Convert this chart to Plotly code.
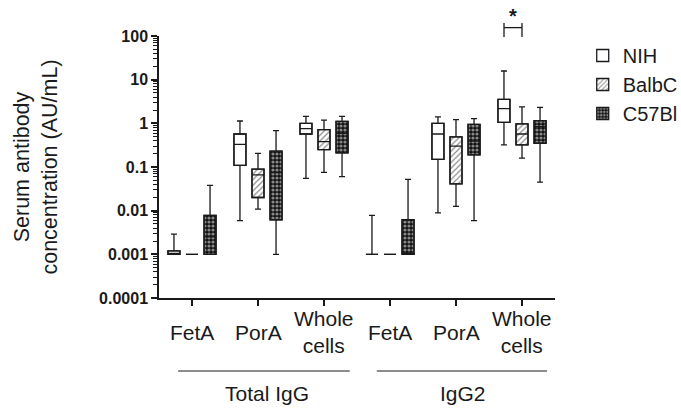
import plotly.graph_objects as go

# ---------------- data ----------------
groups = ["Total IgG", "IgG2"]
categories = ["Total IgG|FetA", "Total IgG|PorA", "Total IgG|Whole cells",
              "IgG2|FetA", "IgG2|PorA", "IgG2|Whole cells"]
category_labels = ["FetA", "PorA", "Whole<br>cells", "FetA", "PorA", "Whole<br>cells"]
strains = ["NIH", "BalbC", "C57Bl"]

nih_min = [0.001, 0.0059, 0.055, 0.001, 0.0089, 0.32]
nih_q1 = [0.001, 0.109, 0.57, 0.001, 0.15, 1.05]
nih_med = [0.001, 0.33, 0.76, 0.001, 0.57, 2.17]
nih_q3 = [0.0012, 0.57, 1.0, 0.001, 1.0, 3.55]
nih_max = [0.0029, 1.13, 1.45, 0.0078, 1.4, 15.8]

balb_min = [0.001, 0.0108, 0.075, 0.001, 0.0126, 0.16]
balb_q1 = [0.001, 0.02, 0.25, 0.001, 0.041, 0.32]
balb_med = [0.001, 0.066, 0.38, 0.001, 0.30, 0.57]
balb_q3 = [0.001, 0.089, 0.72, 0.001, 0.49, 0.97]
balb_max = [0.001, 0.205, 1.19, 0.001, 1.21, 2.37]

c57_min = [0.001, 0.001, 0.06, 0.001, 0.0059, 0.045]
c57_q1 = [0.001, 0.0062, 0.21, 0.001, 0.19, 0.35]
c57_med = [0.0025, 0.074, 0.59, 0.001, 0.39, 0.84]
c57_q3 = [0.0078, 0.23, 1.11, 0.0062, 0.95, 1.15]
c57_max = [0.038, 0.68, 1.45, 0.052, 1.28, 2.33]

y_tickvals = [0.0001, 0.001, 0.01, 0.1, 1, 10, 100]
y_ticktext = ["0.0001", "0.001", "0.01", "0.1", "1", "10", "100"]

# ---------------- styling ----------------
INK = "#1a1a1a"
FONT = "Liberation Sans, Arial, sans-serif"
patterns = [
    dict(shape=""),
    dict(shape="/", fgcolor=INK, bgcolor="white", size=4, solidity=0.3),
    dict(shape=".", fgcolor="white", bgcolor="#111111", size=4, solidity=0.5),
]

series = [
    (nih_min, nih_q1, nih_med, nih_q3, nih_max),
    (balb_min, balb_q1, balb_med, balb_q3, balb_max),
    (c57_min, c57_q1, c57_med, c57_q3, c57_max),
]

fig = go.Figure()

# box bodies with fill patterns (bars from q1 to q3)
for name, (mn, q1, md, q3, mx), pat in zip(strains, series, patterns):
    fig.add_trace(go.Bar(
        x=categories, y=[b - a for a, b in zip(q1, q3)], base=q1,
        name=name, marker=dict(color="white", pattern=pat,
                               line=dict(color=INK, width=1.3)),
        showlegend=True, hoverinfo="skip",
    ))

# whiskers, medians and outlines
for name, (mn, q1, md, q3, mx) in zip(strains, series):
    fig.add_trace(go.Box(
        x=categories, q1=q1, median=md, q3=q3, lowerfence=mn, upperfence=mx,
        name=name, fillcolor="rgba(0,0,0,0)", line=dict(color=INK, width=1.3),
        whiskerwidth=0.5, boxpoints=False, showlegend=False,
    ))

fig.update_layout(
    width=681, height=408,
    margin=dict(l=159, r=126, t=36, b=110, autoexpand=False),
    paper_bgcolor="white", plot_bgcolor="white",
    barmode="group", bargap=0.18, bargroupgap=1/3,
    boxmode="group", boxgap=0.18, boxgroupgap=1/3,
    font=dict(family=FONT, color=INK, size=21),
    legend=dict(x=1.07, y=1.0, xanchor="left", yanchor="top",
                font=dict(size=20, color=INK), tracegroupgap=0,
                bgcolor="rgba(0,0,0,0)"),
    showlegend=True,
)

fig.update_yaxes(
    type="log", range=[-4, 2],
    tickmode="array", tickvals=y_tickvals, ticktext=y_ticktext,
    tickfont=dict(size=16, weight="bold", color=INK),
    ticks="outside", ticklen=6, tickwidth=1.5, tickcolor=INK,
    minor=dict(ticks="outside", ticklen=4, tickwidth=1, tickcolor=INK, dtick="D1"),
    showline=True, linecolor=INK, linewidth=1.5,
    showgrid=False, zeroline=False,
    title=dict(text="Serum antibody<br>concentration (AU/mL)",
               font=dict(size=21.5, color=INK), standoff=36),
)

fig.update_xaxes(
    type="category", categoryorder="array", categoryarray=categories,
    tickmode="array", tickvals=categories, ticktext=[""] * len(categories),
    ticks="outside", ticklen=6, tickwidth=1.5, tickcolor=INK,
    showline=True, linecolor=INK, linewidth=1.5,
    showgrid=False, zeroline=False, range=[-0.5, 5.5],
)

# category labels below the axis
for cat, lab in zip(categories, category_labels):
    fig.add_annotation(x=cat, y=-0.13, xref="x", yref="paper", text=lab,
                       showarrow=False, yanchor="middle", xanchor="center",
                       font=dict(size=21, color=INK))

# group lines and labels
group_spans = [(-0.21, 2.39), (2.80, 5.38)]
group_centres = [1.14, 4.1]
for g, (x0, x1), xc in zip(groups, group_spans, group_centres):
    fig.add_shape(type="line", xref="x", yref="paper", x0=x0, x1=x1,
                  y0=-0.2786, y1=-0.2786, line=dict(color=INK, width=1.2))
    fig.add_annotation(x=xc, y=-0.363, xref="x", yref="paper", text=g,
                       showarrow=False, yanchor="middle",
                       font=dict(size=21, color=INK))

# significance bracket between NIH and BalbC (IgG2 whole cells)
bx0, bx1 = 5 - 18/66, 5.0
fig.add_shape(type="line", xref="x", yref="paper", x0=bx0, x1=bx1,
              y0=1.032, y1=1.032, line=dict(color=INK, width=1.3))
for bx in (bx0, bx1):
    fig.add_shape(type="line", xref="x", yref="paper", x0=bx, x1=bx,
                  y0=0.996, y1=1.05, line=dict(color=INK, width=1.3))
fig.add_annotation(x=(bx0 + bx1) / 2, y=1.075, xref="x", yref="paper", text="<b>*</b>",
                   showarrow=False, yanchor="middle", font=dict(size=20, color=INK))

fig.write_html("out.html", config={"displayModeBar": False},
               post_script="document.body.style.margin='0px';")
